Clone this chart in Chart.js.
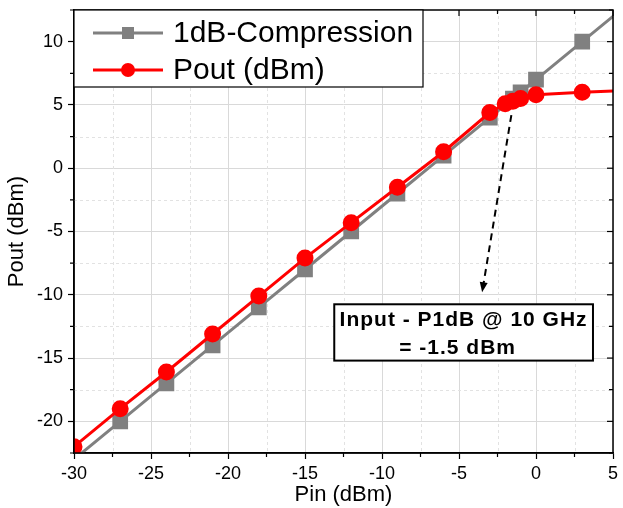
<!DOCTYPE html>
<html>
<head>
<meta charset="utf-8">
<script src="https://cdn.jsdelivr.net/npm/chart.js@4"></script>
<style>
  html, body { margin: 0; padding: 0; background: #fff; }
  #wrap { width: 623px; height: 508px; }
</style>
</head>
<body>
<div id="wrap"><canvas id="p1dbChart"></canvas></div>
<script>
// 1dB compression reference line (gray squares)
const pinCompression = [-30, -27, -24, -21, -18, -15, -12, -9, -6, -3, -1.5, -1, 0, 3, 5];
const compression = [-23, -20, -17, -14, -11, -8, -5, -2, 1, 4, 5.5, 6, 7, 10, 12];
// measured output power (red circles)
const pinMeasured = [-30, -27, -24, -21, -18, -15, -12, -9, -6, -3, -2, -1.5, -1, 0, 3, 5];
const pout = [-22, -19, -16.1, -13.1, -10.1, -7.1, -4.3, -1.5, 1.3, 4.4, 5.1, 5.3, 5.5, 5.8, 6.0, 6.1];

const xTicks = [-30, -25, -20, -15, -10, -5, 0, 5];
const yTicks = [-20, -15, -10, -5, 0, 5, 10];
const xRange = [-30, 5];
const yRange = [-22.5, 12.5];

const annotationLines = ["Input - P1dB @ 10 GHz", "= -1.5 dBm"];
const arrowFrom = [-1.6, 4.2];
const arrowTo = [-3.5, -9.8];
const annotationBox = [-13.1, -10.75, 3.7, -15.2];

const toPoints = (xs, ys) => xs.map((v, i) => ({ x: v, y: ys[i] }));
// the line runs to the plot edges, markers only on the measured points
const edgeRadius = (n, r, first, last) =>
  Array.from({ length: n }, (_, i) => ((i === 0 && !first) || (i === n - 1 && !last) ? 0 : r));

const decor = {
  id: "decor",
  beforeDatasetsDraw(chart) {
    const { ctx, chartArea: a, scales: { x, y } } = chart;
    ctx.save();
    ctx.strokeStyle = "#e2e2e2";
    ctx.lineWidth = 1;
    ctx.setLineDash([3, 3]);
    for (let v = xRange[0] + 2.5; v < xRange[1]; v += 5) {
      const px = Math.round(x.getPixelForValue(v)) + 0.5;
      ctx.beginPath(); ctx.moveTo(px, a.top); ctx.lineTo(px, a.bottom); ctx.stroke();
    }
    for (let v = -17.5; v < yRange[1]; v += 5) {
      const py = Math.round(y.getPixelForValue(v)) + 0.5;
      ctx.beginPath(); ctx.moveTo(a.left, py); ctx.lineTo(a.right, py); ctx.stroke();
    }
    ctx.restore();
  },
  afterDatasetsDraw(chart) {
    const { ctx, chartArea: a, scales: { x, y } } = chart;
    ctx.save();

    // frame + ticks on all four sides
    ctx.strokeStyle = "#000";
    ctx.lineWidth = 1.5;
    ctx.strokeRect(a.left, a.top, a.right - a.left, a.bottom - a.top);
    ctx.lineWidth = 1.2;
    for (let v = xRange[0]; v <= xRange[1]; v += 2.5) {
      const px = x.getPixelForValue(v);
      const len = v % 5 === 0 ? 6 : 4;
      ctx.beginPath();
      ctx.moveTo(px, a.top); ctx.lineTo(px, a.top + len);
      if (v % 5 !== 0) { ctx.moveTo(px, a.bottom); ctx.lineTo(px, a.bottom + len); }
      ctx.stroke();
    }
    for (let v = -22.5; v <= yRange[1]; v += 2.5) {
      const py = y.getPixelForValue(v);
      const len = v % 5 === 0 ? 6 : 4;
      ctx.beginPath();
      ctx.moveTo(a.right, py); ctx.lineTo(a.right - len, py);
      if (v % 5 !== 0) { ctx.moveTo(a.left, py); ctx.lineTo(a.left - len, py); }
      ctx.stroke();
    }

    // dashed arrow
    const x0 = x.getPixelForValue(arrowFrom[0]), y0 = y.getPixelForValue(arrowFrom[1]);
    const x1 = x.getPixelForValue(arrowTo[0]), y1 = y.getPixelForValue(arrowTo[1]);
    const ang = Math.atan2(y1 - y0, x1 - x0);
    ctx.lineWidth = 2;
    ctx.setLineDash([7, 5]);
    ctx.beginPath();
    ctx.moveTo(x0, y0);
    ctx.lineTo(x1 - 8 * Math.cos(ang), y1 - 8 * Math.sin(ang));
    ctx.stroke();
    ctx.setLineDash([]);
    ctx.fillStyle = "#000";
    ctx.beginPath();
    ctx.moveTo(x1, y1);
    ctx.lineTo(x1 - 10 * Math.cos(ang) + 4 * Math.sin(ang), y1 - 10 * Math.sin(ang) - 4 * Math.cos(ang));
    ctx.lineTo(x1 - 10 * Math.cos(ang) - 4 * Math.sin(ang), y1 - 10 * Math.sin(ang) + 4 * Math.cos(ang));
    ctx.closePath();
    ctx.fill();

    // annotation box
    const bx0 = x.getPixelForValue(annotationBox[0]), by0 = y.getPixelForValue(annotationBox[1]);
    const bx1 = x.getPixelForValue(annotationBox[2]), by1 = y.getPixelForValue(annotationBox[3]);
    ctx.fillStyle = "#fff";
    ctx.fillRect(bx0, by0, bx1 - bx0, by1 - by0);
    ctx.lineWidth = 2;
    ctx.strokeRect(bx0, by0, bx1 - bx0, by1 - by0);
    ctx.fillStyle = "#000";
    ctx.font = "bold 21px 'Liberation Sans', Arial, sans-serif";
    ctx.letterSpacing = "1px";
    ctx.textAlign = "center";
    ctx.textBaseline = "middle";
    const cx = (bx0 + bx1) / 2;
    ctx.fillText(annotationLines[0], cx, by0 + 16);
    ctx.fillText(annotationLines[1], cx - 6, by0 + 44);
    ctx.letterSpacing = "0px";

    // legend box in the top-left corner
    const lx1 = 423, ly1 = 87;
    ctx.fillStyle = "#fff";
    ctx.fillRect(a.left, a.top, lx1 - a.left, ly1 - a.top);
    ctx.lineWidth = 1.2;
    ctx.strokeStyle = "#000";
    ctx.strokeRect(a.left, a.top, lx1 - a.left, ly1 - a.top);
    ctx.font = "30px 'Liberation Sans', Arial, sans-serif";
    ctx.textAlign = "left";
    chart.data.datasets.forEach((ds, i) => {
      const ry = a.top + 23 + i * 37;
      ctx.strokeStyle = ds.borderColor;
      ctx.lineWidth = 3;
      ctx.beginPath(); ctx.moveTo(a.left + 19, ry); ctx.lineTo(a.left + 89, ry); ctx.stroke();
      ctx.fillStyle = ds.borderColor;
      if (ds.pointStyle === "rect") {
        ctx.fillRect(a.left + 48, ry - 6, 12, 12);
      } else {
        ctx.beginPath(); ctx.arc(a.left + 54, ry, 7, 0, Math.PI * 2); ctx.fill();
      }
      ctx.fillStyle = "#000";
      ctx.fillText(ds.label, a.left + 99, ry + 1);
    });
    ctx.restore();
  },
};

const font = "'Liberation Sans', Arial, sans-serif";

new Chart(document.getElementById("p1dbChart"), {
  type: "line",
  data: {
    datasets: [
      {
        label: "1dB-Compression",
        data: toPoints(pinCompression, compression),
        borderColor: "#808080",
        backgroundColor: "#808080",
        borderWidth: 3,
        pointStyle: "rect",
        pointRadius: edgeRadius(pinCompression.length, 9, false, false),
        order: 1,
      },
      {
        label: "Pout (dBm)",
        data: toPoints(pinMeasured, pout),
        borderColor: "#ff0000",
        backgroundColor: "#ff0000",
        borderWidth: 3,
        pointStyle: "circle",
        pointRadius: edgeRadius(pinMeasured.length, 7, true, false),
        order: 0,
      },
    ],
  },
  options: {
    responsive: true,
    maintainAspectRatio: false,
    animation: false,
    layout: { padding: { top: 9, right: 3, left: 0, bottom: 0 } },
    plugins: { legend: { display: false }, tooltip: { enabled: false } },
    scales: {
      x: {
        type: "linear",
        min: xRange[0],
        max: xRange[1],
        afterBuildTicks: (s) => { s.ticks = xTicks.map((v) => ({ value: v })); },
        afterFit: (s) => { s.height = 55; s.paddingLeft = 0; s.paddingRight = 0; },
        ticks: { color: "#000", font: { family: font, size: 18 }, padding: 4, maxRotation: 0 },
        grid: { color: "#d9d9d9", tickColor: "#000", tickLength: 6, tickWidth: 1.2 },
        border: { color: "#000", width: 1.5 },
        title: { display: true, text: "Pin (dBm)", color: "#000", font: { family: font, size: 22 }, padding: { top: 0, bottom: 0 } },
      },
      y: {
        type: "linear",
        min: yRange[0],
        max: yRange[1],
        afterBuildTicks: (s) => { s.ticks = yTicks.map((v) => ({ value: v })); },
        afterFit: (s) => { s.width = 74; s.paddingTop = 0; s.paddingBottom = 0; },
        ticks: { color: "#000", font: { family: font, size: 18 }, padding: 5 },
        grid: { color: "#d9d9d9", tickColor: "#000", tickLength: 6, tickWidth: 1.2 },
        border: { color: "#000", width: 1.5 },
        title: { display: true, text: "Pout (dBm)", color: "#000", font: { family: font, size: 22 }, padding: { top: 4, bottom: 0 } },
      },
    },
  },
  plugins: [decor],
});
</script>
</body>
</html>
